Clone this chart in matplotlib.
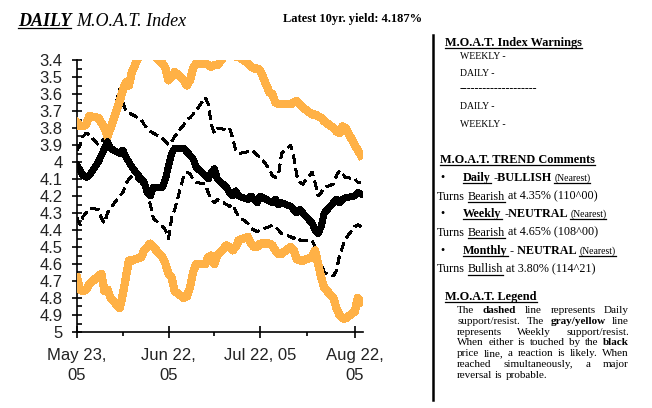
import matplotlib
matplotlib.use('Agg')
import matplotlib.pyplot as plt
import matplotlib.dates as mdates
from matplotlib.transforms import IdentityTransform
from matplotlib.lines import Line2D
import pandas as pd

W, H = 652, 408
SERIF = 'Liberation Serif'
SANS = 'Liberation Sans'

# business days of the window shown
dates = pd.bdate_range('2005-05-23', '2005-08-24')

# black price line (10yr yield, %)
price = [4.02, 4.05, 4.08, 4.09, 4.08,
         4.00, 3.96, 3.92, 3.88, 3.92,
         3.95, 3.93, 3.97, 4.00, 4.03,
         4.10, 4.12, 4.18, 4.20, 4.15,
         4.15, 4.10, 4.02, 3.95, 3.92,
         3.92, 3.94, 3.96, 3.98, 4.03,
         4.08, 4.10, 4.06, 4.04, 4.10,
         4.15, 4.18, 4.20, 4.17, 4.20,
         4.22, 4.20, 4.22, 4.24, 4.20,
         4.23, 4.24, 4.22, 4.25, 4.24,
         4.26, 4.28, 4.30, 4.28, 4.30,
         4.36, 4.40, 4.42, 4.38, 4.30,
         4.24, 4.22, 4.24, 4.22, 4.21,
         4.20, 4.18, 4.187]

# weekly support/resist (orange)
weekly_upper = [3.77, 3.79, 3.79, 3.78, 3.73,
                3.74, 3.77, 3.80, 3.85, 3.80,
                3.64, 3.58, 3.53, 3.55, 3.47,
                3.35, 3.33, 3.35, 3.36, 3.37,
                3.42, 3.45, 3.52, 3.50, 3.47,
                3.52, 3.55, 3.52, 3.45, 3.42,
                3.42, 3.43, 3.44, 3.43, 3.43,
                3.36, 3.35, 3.36, 3.38, 3.38,
                3.42, 3.44, 3.45, 3.45, 3.46,
                3.59, 3.60, 3.65, 3.66, 3.66,
                3.66, 3.65, 3.64, 3.66, 3.68,
                3.72, 3.72, 3.73, 3.74, 3.76,
                3.80, 3.82, 3.83, 3.79, 3.80,
                3.90, 3.93, 3.96]
weekly_lower = [4.68, 4.75, 4.76, 4.75, 4.72,
                4.67, 4.66, 4.76, 4.75, 4.80,
                4.86, 4.78, 4.68, 4.58, 4.58,
                4.56, 4.52, 4.50, 4.48, 4.50,
                4.56, 4.60, 4.66, 4.68, 4.76,
                4.80, 4.79, 4.74, 4.65, 4.60,
                4.60, 4.56, 4.55, 4.60, 4.55,
                4.49, 4.50, 4.52, 4.50, 4.46,
                4.44, 4.48, 4.50, 4.50, 4.48,
                4.48, 4.49, 4.52, 4.54, 4.54,
                4.50, 4.52, 4.57, 4.58, 4.58,
                4.56, 4.52, 4.60, 4.68, 4.74,
                4.80, 4.86, 4.90, 4.92, 4.92,
                4.88, 4.80, 4.82]

# daily support/resist (dashed)
daily_upper = [3.93, 3.90, 3.85, 3.83, 3.84,
               3.90, 3.88, 3.86, 3.85, 3.78,
               3.57, 3.65, 3.70, 3.71, 3.72,
               3.75, 3.78, 3.80, 3.82, 3.83,
               3.86, 3.88, 3.90, 3.88, 3.85,
               3.78, 3.75, 3.74, 3.72, 3.70,
               3.62, 3.66, 3.78, 3.83, 3.80,
               3.81, 3.80, 3.86, 3.93, 3.95,
               3.94, 3.95, 3.94, 3.96, 3.97,
               4.04, 4.08, 4.09, 4.08, 3.95,
               3.90, 3.97, 4.08, 4.12, 4.13,
               4.06, 4.12, 4.20, 4.18, 4.15,
               4.13, 4.08, 4.05, 4.07, 4.09,
               4.10, 4.12, 4.12]
daily_lower = [4.33, 4.37, 4.32, 4.30, 4.27,
               4.28, 4.33, 4.36, 4.30, 4.27,
               4.20, 4.18, 4.13, 4.10, 4.08,
               4.12, 4.15, 4.18, 4.25, 4.33,
               4.38, 4.40, 4.45, 4.33, 4.28,
               4.08, 4.06, 4.07, 4.10, 4.12,
               4.13, 4.18, 4.22, 4.24, 4.22,
               4.25, 4.26, 4.25, 4.29, 4.32,
               4.36, 4.39, 4.40, 4.41, 4.40,
               4.38, 4.37, 4.38, 4.40, 4.42,
               4.44, 4.45, 4.44, 4.46, 4.46,
               4.46, 4.50, 4.56, 4.60, 4.65,
               4.67, 4.64, 4.55, 4.50, 4.45,
               4.38, 4.37, 4.38]

y_ticks = [3.4, 3.5, 3.6, 3.7, 3.8, 3.9, 4.0, 4.1, 4.2, 4.3, 4.4, 4.5, 4.6, 4.7, 4.8, 4.9, 5.0]
x_tick_dates = ['2005-05-23', '2005-06-22', '2005-07-22', '2005-08-22']
x_tick_labels = ['May 23,\n05', 'Jun 22,\n05', 'Jul 22, 05', 'Aug 22,\n05']

ORANGE = '#ffb146'

fig = plt.figure(figsize=(W / 100, H / 100), dpi=100)
ax = fig.add_axes([77 / W, 76 / H, 286 / W, 272 / H])

ax.plot(dates, daily_upper, color='black', lw=1.5, dashes=(4, 2.5), antialiased=False, zorder=2)
ax.plot(dates, daily_lower, color='black', lw=1.5, dashes=(4, 2.5), antialiased=False, zorder=2)
ax.plot(dates, weekly_upper, color=ORANGE, lw=5.2, antialiased=False, zorder=3)
ax.plot(dates, weekly_lower, color=ORANGE, lw=5.2, antialiased=False, zorder=3)
ax.plot(dates, price, color='black', lw=4.3, antialiased=False, zorder=4)

start = mdates.date2num(pd.Timestamp('2005-05-23'))
ax.set_xlim(start, start + 93.7)
ax.set_ylim(5.0, 3.4)

ax.set_yticks(y_ticks)
ax.set_yticklabels(['%g' % v for v in y_ticks])
ax.set_yticks([v + 0.05 for v in y_ticks[:-1]], minor=True)

major = [mdates.date2num(pd.Timestamp(d)) for d in x_tick_dates]
ax.set_xticks(major)
ax.set_xticklabels(x_tick_labels)
ax.set_xticks([(a + b) / 2 for a, b in zip(major[:-1], major[1:])], minor=True)

for side in ['top', 'right']:
    ax.spines[side].set_visible(False)
for side in ['left', 'bottom']:
    ax.spines[side].set_linewidth(1.2)

ax.tick_params(axis='y', which='major', direction='inout', length=7.5, width=1.2, pad=6.5,
               labelsize=12, labelcolor='#222222')
ax.tick_params(axis='y', which='minor', direction='in', length=3.8, width=1.2)
ax.tick_params(axis='x', which='major', direction='inout', length=8, width=1.2, pad=7.5,
               labelsize=12, labelcolor='#222222')
ax.tick_params(axis='x', which='minor', direction='out', length=3, width=1.2)
for lbl in ax.get_xticklabels() + ax.get_yticklabels():
    lbl.set_family(SANS)
for lbl in ax.get_xticklabels():
    lbl.set_linespacing(1.45)

renderer = fig.canvas.get_renderer()


def put(x, y, chunks, size=8.7, width=None):
    """Place text chunks left to right at baseline y (pixels from top)."""
    base = H - y
    placed = []
    for chunk in chunks:
        text, style = chunk[0], chunk[1]
        sz = chunk[2] if len(chunk) > 2 else size
        t = fig.text(0, base, text, transform=IdentityTransform(), family=SERIF, size=sz,
                     weight='bold' if 'b' in style else 'normal',
                     style='italic' if 'i' in style else 'normal',
                     va='baseline', ha='left')
        w = t.get_window_extent(renderer).width
        placed.append((t, w, 'u' in style))
    gap = size * 0.25 * 100 / 72
    if width is not None and len(placed) > 1:
        gap = (width - sum(p[1] for p in placed)) / (len(placed) - 1)
    cx = x
    for t, w, ul in placed:
        t.set_x(cx)
        if ul:
            fig.add_artist(Line2D([cx, cx + w], [base - 2, base - 2], transform=IdentityTransform(),
                                  color='black', lw=0.9))
        cx += w + gap


# title row
put(18, 26, [('DAILY', 'biu'), ('M.O.A.T. Index', 'i')], size=13)
put(283, 22, [('Latest 10yr. yield: 4.187%', 'b')], size=9)

# separator of the right panel
fig.add_artist(Line2D([433, 433], [H - 35, H - 400], transform=IdentityTransform(), color='black', lw=1.8))

# warnings
put(445, 46, [('M.O.A.T. Index Warnings', 'bu')], size=8.8)
put(460, 59, [('WEEKLY -', '')], size=7)
put(460, 76, [('DAILY -', '')], size=7)
put(460, 92, [('--------------------', '')], size=8.5)
put(460, 109, [('DAILY -', '')], size=7)
put(460, 127, [('WEEKLY -', '')], size=7)

# trend comments
put(440, 163, [('M.O.A.T. TREND Comments', 'bu')], size=8.8)
rows = [
    (181, 'Daily', '-BULLISH', 'Bearish', 'at 4.35% (110^00)'),
    (217, 'Weekly', '-NEUTRAL', 'Bearish', 'at 4.65% (108^00)'),
    (254, 'Monthly', '- NEUTRAL', 'Bullish', 'at 3.80% (114^21)'),
]
for yb, period, state, turn, rest in rows:
    put(440, yb, [('\u2022', '')], size=8.7)
    put(463, yb, [(period, 'bu', 8.7), (state, 'b', 8.7), ('(Nearest)', 'u', 7)], size=7.5)
    put(437, yb + 18.5, [('Turns', ''), (turn, 'u'), (rest, '')], size=8.7)

# legend paragraph
put(445, 300, [('M.O.A.T. Legend', 'bu')], size=8.8)
legend_lines = [
    [('The', ''), ('dashed', 'b'), ('line', ''), ('represents', ''), ('Daily', '')],
    [('support/resist.', ''), ('The', ''), ('gray/yellow', 'b'), ('line', '')],
    [('represents', ''), ('Weekly', ''), ('support/resist.', '')],
    [('When', ''), ('either', ''), ('is', ''), ('touched', ''), ('by', ''), ('the', ''), ('black', 'b')],
    [('price', ''), ('line,', ''), ('a', ''), ('reaction', ''), ('is', ''), ('likely.', ''), ('When', '')],
    [('reached', ''), ('simultaneously,', ''), ('a', ''), ('major', '')],
    [('reversal', ''), ('is', ''), ('probable.', '')],
]
for i, line in enumerate(legend_lines):
    last = i == len(legend_lines) - 1
    put(457, 313 + i * 10.8, line, size=8, width=None if last else 172)

fig.savefig('out.png', dpi=100)
